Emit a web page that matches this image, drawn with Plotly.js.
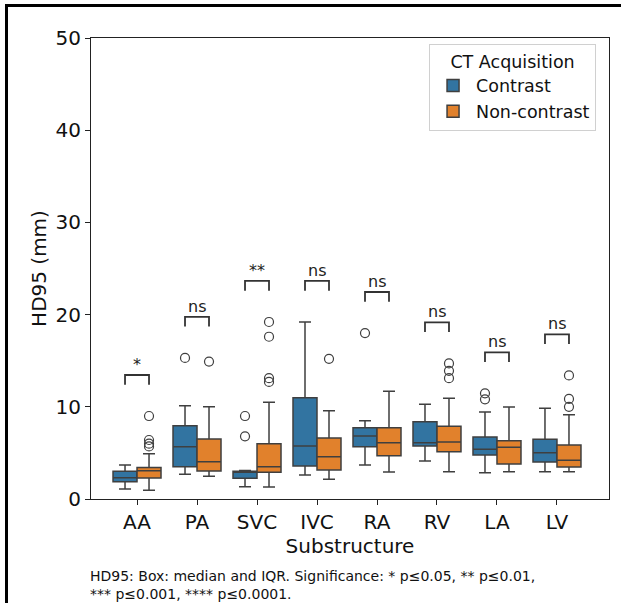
<!DOCTYPE html>
<html><head><meta charset="utf-8">
<script src="https://cdn.plot.ly/plotly-3.0.1.min.js"></script>
<style>
html,body{margin:0;padding:0;background:#fff}
#chart{width:621px;height:603px}
#frame{position:absolute;left:5px;top:4px;width:620px;height:605px;border-left:3px solid #000;border-top:3px solid #000;pointer-events:none}
</style>
</head><body><div id="chart"></div><div id="frame"></div>
<script>
const categories = ['AA','PA','SVC','IVC','RA','RV','LA','LV'];
// Contrast
const conLower   = [1.08, 2.68, 1.34, 2.60, 3.69, 4.12, 2.85, 2.96];
const conQ1      = [1.88, 3.50, 2.26, 3.58, 5.68, 5.75, 4.77, 4.01];
const conMedian  = [2.31, 5.68, 2.95, 5.75, 6.83, 6.11, 5.39, 5.02];
const conQ3      = [3.00, 7.95, 3.00, 10.99, 7.74, 8.39, 6.72, 6.48];
const conUpper   = [3.69, 10.12, 3.10, 19.20, 8.49, 10.27, 9.44, 9.84];
const conOutliers = [[], [15.3], [9.0, 6.8], [], [18.0], [], [11.46, 10.81], []];
// Non-contrast
const nonLower   = [0.94, 2.46, 1.30, 2.13, 2.93, 2.96, 2.96, 2.96];
const nonQ1      = [2.28, 3.04, 2.90, 3.15, 4.70, 5.13, 3.80, 3.47];
const nonMedian  = [3.07, 4.05, 3.50, 4.59, 6.11, 6.18, 5.60, 4.20];
const nonQ3      = [3.43, 6.50, 6.00, 6.62, 7.74, 7.88, 6.32, 5.86];
const nonUpper   = [4.92, 10.00, 10.49, 9.58, 11.68, 10.92, 9.98, 9.14];
const nonOutliers = [[9.0, 6.4, 6.0, 5.7], [14.9], [19.2, 17.6, 13.1, 12.7], [15.2], [], [14.7, 13.9, 13.1], [], [13.4, 10.85, 10.0]];
const significance = ['*','ns','**','ns','ns','ns','ns','ns'];
const groupNames = ['Contrast', 'Non-contrast'];
const yTicks = [0, 10, 20, 30, 40, 50];

const colors = ['#3274a1', '#e1812c'];
const lineGray = '#3f3f3f';
const FONT = 'DejaVu Sans, sans-serif';

function boxTrace(name, color, lo, q1, med, q3, up, grp) {
  return {
    type: 'box', name: name, x: categories, q1: q1, median: med, q3: q3,
    lowerfence: lo, upperfence: up, offsetgroup: grp,
    fillcolor: color, line: {color: lineGray, width: 1.5},
    whiskerwidth: 0.5, boxpoints: false, hoverinfo: 'skip'
  };
}
function outlierTrace(outs, grp) {
  const xs = [], ys = [];
  outs.forEach((arr, i) => arr.forEach(v => { xs.push(categories[i]); ys.push(v); }));
  return {
    type: 'scatter', mode: 'markers', x: xs, y: ys, offsetgroup: grp, showlegend: false,
    marker: {symbol: 'circle-open', size: 9, color: lineGray, line: {width: 1.2, color: lineGray}},
    hoverinfo: 'skip'
  };
}

const data = [
  boxTrace(groupNames[0], colors[0], conLower, conQ1, conMedian, conQ3, conUpper, 'c'),
  boxTrace(groupNames[1], colors[1], nonLower, nonQ1, nonMedian, nonQ3, nonUpper, 'n'),
  outlierTrace(conOutliers, 'c'),
  outlierTrace(nonOutliers, 'n')
];

const shapes = [], annotations = [];
categories.forEach((c, i) => {
  const m = Math.max(conUpper[i], nonUpper[i], ...conOutliers[i], ...nonOutliers[i]);
  const lo = m + 3.4, hi = lo + 1.05;
  shapes.push({type: 'path', xref: 'x', yref: 'y',
    path: `M ${i-0.2},${lo} L ${i-0.2},${hi} L ${i+0.2},${hi} L ${i+0.2},${lo}`,
    line: {color: '#333', width: 1.8}});
  annotations.push({x: c, y: hi, xref: 'x', yref: 'y', text: significance[i], showarrow: false,
    yanchor: 'bottom', yshift: -1, font: {family: FONT, size: 16, color: '#222'}});
});
annotations.push({xref: 'paper', yref: 'paper', x: -0.005, y: -0.146, xanchor: 'left', yanchor: 'top', align: 'left',
  showarrow: false,
  text: 'HD95: Box: median and IQR. Significance: * p≤0.05, ** p≤0.01,<br>*** p≤0.001, **** p≤0.0001.',
  font: {family: FONT, size: 14, color: '#111'}});

const layout = {
  width: 621, height: 603,
  margin: {l: 91, r: 12, t: 38, b: 104},
  paper_bgcolor: '#fff', plot_bgcolor: '#fff',
  font: {family: FONT, color: '#111', size: 16},
  boxmode: 'group', boxgap: 0.2, boxgroupgap: 0,
  scattermode: 'group', scattergap: 0.2,
  showlegend: true,
  legend: {x: 0.975, xanchor: 'right', y: 0.987, yanchor: 'top', bgcolor: '#fff',
    bordercolor: '#d0d0d0', borderwidth: 1, font: {family: FONT, size: 17.5, color: '#111'},
    title: {text: 'CT Acquisition', side: 'top center', font: {family: FONT, size: 17.5, color: '#111'}},
    traceorder: 'normal', itemwidth: 36},
  xaxis: {type: 'category', range: [-0.767, 7.867], showgrid: false, zeroline: false,
    showline: true, mirror: true, linecolor: '#222', linewidth: 1,
    ticks: 'outside', ticklen: 5, tickcolor: '#222', tickfont: {family: FONT, size: 20, color: '#111'},
    title: {text: 'Substructure', standoff: 0, font: {family: FONT, size: 20, color: '#111'}}},
  yaxis: {range: [0, 50], tickvals: yTicks, showgrid: false, zeroline: false,
    showline: true, mirror: true, linecolor: '#222', linewidth: 1,
    ticks: 'outside', ticklen: 5, tickcolor: '#222', tickfont: {family: FONT, size: 20, color: '#111'},
    title: {text: 'HD95 (mm)', standoff: 3, font: {family: FONT, size: 20, color: '#111'}}},
  shapes: shapes, annotations: annotations
};
Plotly.newPlot('chart', data, layout, {staticPlot: true});
</script>
</body></html>
